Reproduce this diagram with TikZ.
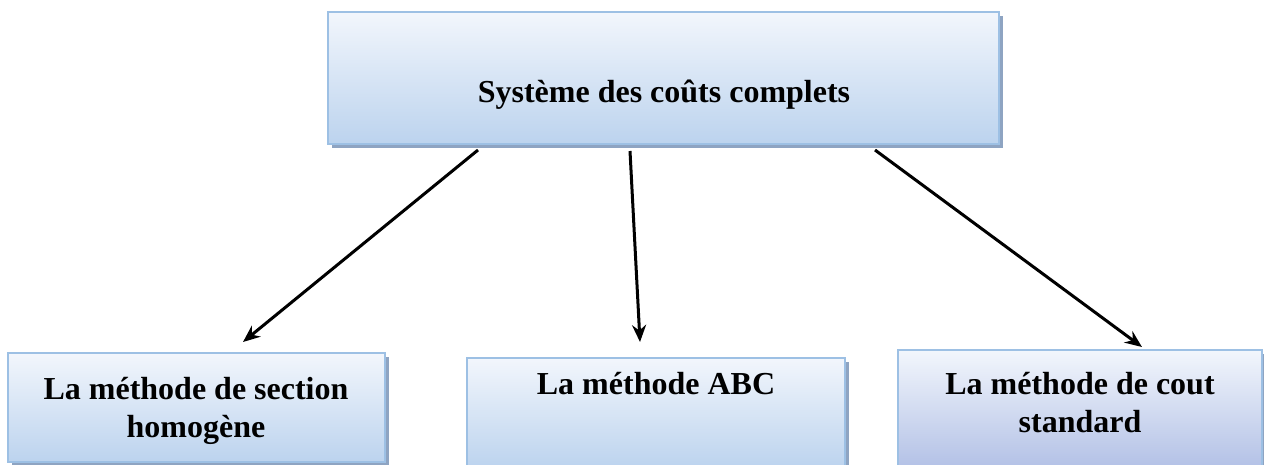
\documentclass[tikz,border=0pt]{standalone}
\usepackage{fontspec}
\setmainfont{Liberation Serif}
\usetikzlibrary{arrows.meta}
\definecolor{boxtop}{HTML}{F2F6FC}
\definecolor{boxbot}{HTML}{BCD3EE}
\definecolor{boxbotb}{HTML}{B3C1E6}
\definecolor{boxline}{HTML}{9DC0E4}
\definecolor{shade}{HTML}{8EA4C2}
\tikzset{
  x=1pt, y=-1pt,
  catbox/.style={draw=boxline, line width=2pt, top color=boxtop, bottom color=boxbot},
  shadowbox/.style={fill=shade, draw=none},
  lbl/.style={font=\bfseries\fontsize{32}{38}\selectfont, align=center},
  link/.style={-{Stealth[length=17pt,width=14pt]}, line width=3pt, black}
}
\begin{document}
\begin{tikzpicture}
\useasboundingbox (0,0) rectangle (1264,464);
% top box
\fill[shadowbox] (332,16) rectangle (1003,148);
\draw[catbox] (328,12) rectangle (999,144);
\node[lbl] (top) at (664,95) {Système des coûts complets};
\coordinate (tl) at (478,150);
\coordinate (tm) at (630,151);
\coordinate (tr) at (875,150);
% bottom boxes
\fill[shadowbox] (12,357) rectangle (389,466);
\draw[catbox] (8,353) rectangle (385,462);
\node[lbl] (sec) at (196,411) {La méthode de section\\homogène};
\fill[shadowbox] (471,362) rectangle (849,468);
\draw[catbox] (467,358) rectangle (845,468);
\node[lbl] (abc) at (656,384) {La méthode ABC};
\fill[shadowbox] (902,354) rectangle (1266,468);
\draw[draw=boxline, line width=2pt, top color=boxtop, bottom color=boxbotb] (898,350) rectangle (1262,468);
\node[lbl] (std) at (1080,403) {La méthode de cout\\standard};
\coordinate (bl) at (243,342);
\coordinate (bm) at (640,342);
\coordinate (br) at (1142,347);
% connectors
\draw[link] (tl) -- (bl);
\draw[link] (tm) -- (bm);
\draw[link] (tr) -- (br);
\end{tikzpicture}
\end{document}
